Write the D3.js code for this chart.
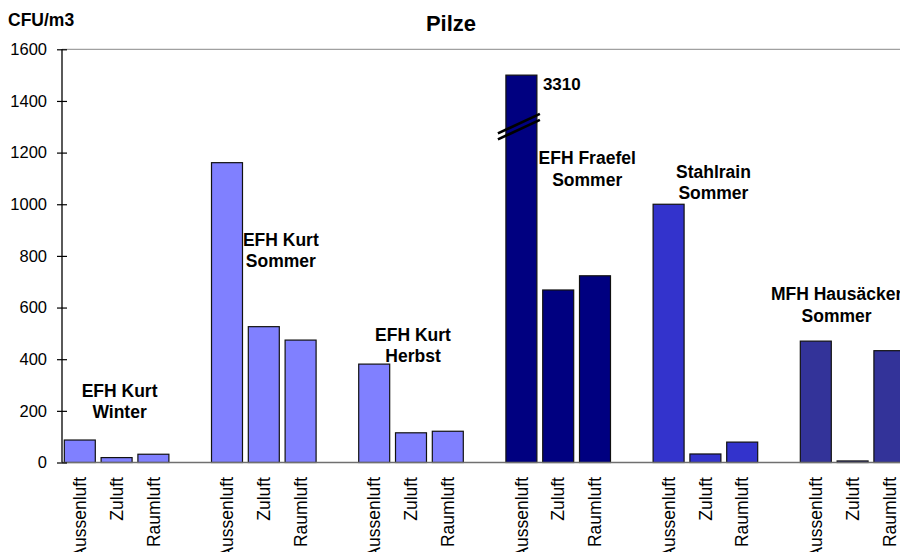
<!DOCTYPE html>
<html>
<head>
<meta charset="utf-8">
<script src="https://cdn.jsdelivr.net/npm/d3@7"></script>
<style>
  html, body { margin: 0; padding: 0; background: #fff; }
  svg { display: block; font-family: Arial, "Liberation Sans", sans-serif; }
</style>
</head>
<body>
<script>
// ---- data ----
const chartTitle = "Pilze";
const unitLabel = "CFU/m3";
const groups = ["EFH Kurt Winter", "EFH Kurt Sommer", "EFH Kurt Herbst", "EFH Fraefel Sommer", "Stahlrain Sommer", "MFH Hausäcker Sommer"];
const groupLines = [["EFH Kurt", "Winter"], ["EFH Kurt", "Sommer"], ["EFH Kurt", "Herbst"], ["EFH Fraefel", "Sommer"], ["Stahlrain", "Sommer"], ["MFH Hausäcker", "Sommer"]];
const points = ["Aussenluft", "Zuluft", "Raumluft"];
const valuesWinter  = [87, 19, 32];
const valuesSommer  = [1161, 526, 474];
const valuesHerbst  = [381, 115, 121];
const valuesFraefel = [3310, 668, 723];
const valuesStahl   = [1000, 33, 79];
const valuesMFH     = [470, 6, 433];
const yTicks = [0, 200, 400, 600, 800, 1000, 1200, 1400, 1600];
const yMax = 1600;
const clipValue = 1500;      // broken bar drawn to this height
const groupColors = ["#8080FF", "#8080FF", "#8080FF", "#000080", "#3333CC", "#333399"];
// label placement (layout): first-line baseline in data units, x offset px from group centre
const labelY = [254, 840, 472, 1154, 1103, 628];
const labelDx = [3, 17, 2, 29, 8, -16];

const allValues = [valuesWinter, valuesSommer, valuesHerbst, valuesFraefel, valuesStahl, valuesMFH];

// ---- layout ----
const W = 900, H = 552;
const axisX = 62;
const step = 36.8;
const svg = d3.select("body").append("svg").attr("width", W).attr("height", H);

const slots = [];
groups.forEach(g => { points.forEach(p => slots.push(g + "|" + p)); slots.push(g + "|gap"); });

const x = d3.scaleBand().domain(slots)
  .range([axisX - 0.6, axisX - 0.6 + slots.length * step])
  .paddingInner(0.158).paddingOuter(0.079);
const y = d3.scaleLinear().domain([0, yMax]).range([462.5, 49.3]);

// top border line
svg.append("line").attr("x1", axisX).attr("x2", W).attr("y1", y(yMax)).attr("y2", y(yMax))
  .attr("stroke", "#a0a0a0").attr("stroke-width", 1.3);

// bars
const bars = [];
groups.forEach((g, gi) => points.forEach((p, pi) => {
  bars.push({ g, gi, p, v: allValues[gi][pi] });
}));
svg.append("g").selectAll("rect").data(bars).join("rect")
  .attr("x", d => x(d.g + "|" + d.p))
  .attr("width", x.bandwidth())
  .attr("y", d => y(Math.min(d.v, clipValue)))
  .attr("height", d => y(0) - y(Math.min(d.v, clipValue)))
  .attr("fill", d => groupColors[d.gi])
  .attr("stroke", "#111")
  .attr("stroke-width", 1.2);

// baseline
svg.append("line").attr("x1", axisX).attr("x2", W).attr("y1", y(0)).attr("y2", y(0))
  .attr("stroke", "#707070").attr("stroke-width", 1.5);

// y axis
const yAxis = svg.append("g").attr("transform", `translate(${axisX},0)`)
  .call(d3.axisLeft(y).tickValues(yTicks).tickSize(5).tickPadding(10).tickFormat(d3.format("d")));
yAxis.select(".domain").attr("stroke", "#000").attr("stroke-width", 1.3).attr("d", `M0,${y(yMax)}V${y(0)}`);
yAxis.selectAll(".tick line").attr("x1", -5).attr("x2", 5).attr("stroke", "#000").attr("stroke-width", 1.2);
yAxis.selectAll(".tick text").attr("font-size", 16.5).attr("font-family", "Arial, 'Liberation Sans', sans-serif").attr("fill", "#000");

// x labels (rotated)
svg.append("g").selectAll("text").data(bars).join("text")
  .attr("transform", d => `translate(${x(d.g + "|" + d.p) + x.bandwidth() / 2},477) rotate(-90)`)
  .attr("text-anchor", "end").attr("dy", "0.35em")
  .attr("font-size", 17.5).attr("fill", "#000")
  .text(d => d.p);

// break mark on clipped bar
bars.filter(d => d.v > clipValue).forEach(d => {
  const bx = x(d.g + "|" + d.p), bw = x.bandwidth();
  const yc = y(1305);
  const x1 = bx - 8, x2 = bx + bw + 3;
  const slope = -0.465;
  [-3, 3].forEach(off => {
    svg.append("line")
      .attr("x1", x1).attr("y1", yc + off - slope * (bx + bw / 2 - x1))
      .attr("x2", x2).attr("y2", yc + off + slope * (x2 - bx - bw / 2))
      .attr("stroke", "#000").attr("stroke-width", 2.6);
  });
  svg.append("text").attr("x", bx + bw + 6).attr("y", y(clipValue) + 15)
    .attr("font-size", 17).attr("font-weight", "bold").text(d3.format("d")(d.v));
});

// group labels
groupLines.forEach((lines, gi) => {
  const cx = x(groups[gi] + "|Zuluft") + x.bandwidth() / 2 + labelDx[gi];
  const t = svg.append("text").attr("text-anchor", "middle")
    .attr("font-size", 17.5).attr("font-weight", "bold").attr("fill", "#000");
  lines.forEach((ln, li) => {
    t.append("tspan").attr("x", cx).attr("y", y(labelY[gi]) + li * 21.5).text(ln);
  });
});

// title and unit
svg.append("text").attr("x", 451).attr("y", 31).attr("text-anchor", "middle")
  .attr("font-size", 22).attr("font-weight", "bold").text(chartTitle);
svg.append("text").attr("x", 8).attr("y", 26)
  .attr("font-size", 17.5).attr("font-weight", "bold").text(unitLabel);
</script>
</body>
</html>
